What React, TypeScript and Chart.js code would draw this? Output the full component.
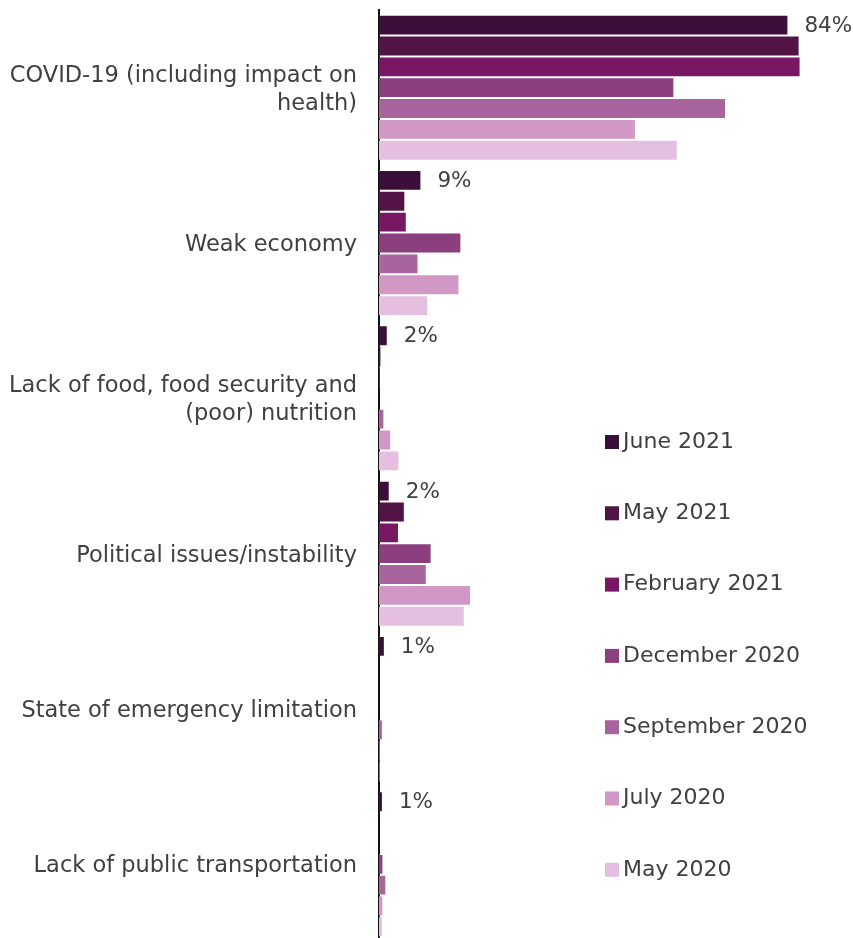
import { useEffect, useRef } from "react";
import { Chart, registerables } from "chart.js";

Chart.register(...registerables);

const categories: (string | string[])[] = [
  ["COVID-19 (including impact on", "health)"],
  "Weak economy",
  ["Lack of food, food security and", "(poor) nutrition"],
  "Political issues/instability",
  "State of emergency limitation",
  "Lack of public transportation",
];

const seriesNames = [
  "June 2021",
  "May 2021",
  "February 2021",
  "December 2020",
  "September 2020",
  "July 2020",
  "May 2020",
];

const june2021 = [84, 8.7, 1.8, 2.2, 1.2, 0.8];
const may2021 = [86.3, 5.4, 0.5, 5.3, 0, 0];
const feb2021 = [86.5, 5.7, 0.25, 4.1, 0, 0];
const dec2020 = [60.6, 16.9, 0, 10.8, 0, 0.9];
const sep2020 = [71.2, 8.1, 1.1, 9.8, 0.8, 1.5];
const jul2020 = [52.7, 16.5, 2.5, 18.9, 0.2, 0.9];
const may2020 = [61.3, 10.1, 4.2, 17.6, 0.2, 0.8];

const seriesValues = [june2021, may2021, feb2021, dec2020, sep2020, jul2020, may2020];

const seriesColors = [
  "#3c0f3a",
  "#521345",
  "#781865",
  "#8c3f7f",
  "#a8649c",
  "#d197c5",
  "#e5bfdf",
];

const TEXT_COLOR = "#404040";
const FONT_FAMILY = "'DejaVu Sans', 'Liberation Sans', sans-serif";

const valueLabelPlugin = {
  id: "valueLabels",
  afterDatasetsDraw(chart: any) {
    const ctx = chart.ctx;
    const meta = chart.getDatasetMeta(0);
    const data = chart.data.datasets[0].data as number[];
    ctx.save();
    ctx.font = `21.5px ${FONT_FAMILY}`;
    ctx.fillStyle = TEXT_COLOR;
    ctx.textAlign = "left";
    ctx.textBaseline = "middle";
    meta.data.forEach((bar: any, i: number) => {
      ctx.fillText(`${Math.round(data[i])}%`, bar.x + 16, bar.y + 1);
    });
    ctx.restore();
  },
};

const sideLegendPlugin = {
  id: "sideLegend",
  afterDraw(chart: any) {
    const ctx = chart.ctx;
    const left = 605;
    const top = 442;
    const gap = 71.3;
    const box = 14;
    ctx.save();
    ctx.font = `22px ${FONT_FAMILY}`;
    ctx.textAlign = "left";
    ctx.textBaseline = "middle";
    chart.data.datasets.forEach((ds: any, i: number) => {
      const y = top + i * gap;
      ctx.fillStyle = ds.backgroundColor;
      ctx.fillRect(left, y - box / 2, box, box);
      ctx.fillStyle = TEXT_COLOR;
      ctx.fillText(ds.label, left + 18, y);
    });
    ctx.restore();
  },
};

export default function App() {
  const canvasRef = useRef<HTMLCanvasElement | null>(null);

  useEffect(() => {
    document.body.style.margin = "0";
    if (!canvasRef.current) return;
    const chart = new Chart(canvasRef.current, {
      type: "bar",
      data: {
        labels: categories,
        datasets: seriesNames.map((name, i) => ({
          label: name,
          data: seriesValues[i],
          backgroundColor: seriesColors[i],
          borderColor: "rgba(255,255,255,0.25)",
          borderWidth: 1,
          categoryPercentage: 0.94,
          barPercentage: 1,
        })),
      },
      options: {
        indexAxis: "y",
        animation: false,
        responsive: true,
        maintainAspectRatio: false,
        layout: { padding: { top: 10, bottom: 3, right: 11, left: 0 } },
        plugins: {
          legend: { display: false },
          tooltip: { enabled: false },
        },
        scales: {
          x: {
            display: false,
            min: 0,
            max: 95,
          },
          y: {
            z: 1,
            grid: { display: false, drawTicks: false },
            border: { display: true, color: "#111111", width: 2 },
            ticks: {
              padding: 22,
              labelOffset: 2,
              color: TEXT_COLOR,
              font: { family: FONT_FAMILY, size: 22.5, lineHeight: "28px" },
            },
            afterFit(scale: any) {
              scale.width = 379;
              scale.paddingTop = 0;
              scale.paddingBottom = 0;
            },
          },
        },
      },
      plugins: [valueLabelPlugin, sideLegendPlugin],
    });
    return () => chart.destroy();
  }, []);

  return (
    <div style={{ width: 853, height: 938, overflow: "hidden" }}>
      <div style={{ position: "relative", width: 853, height: 945 }}>
        <canvas ref={canvasRef} />
      </div>
    </div>
  );
}
